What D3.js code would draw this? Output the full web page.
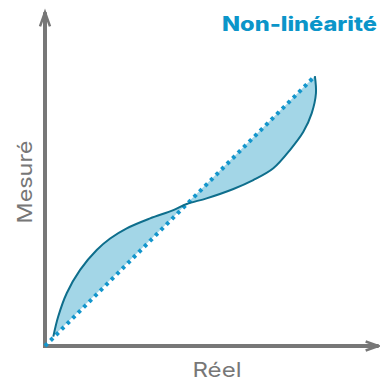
<!DOCTYPE html>
<html>
<head>
<meta charset="utf-8">
<script src="https://d3js.org/d3.v7.min.js"></script>
<style>
body { margin: 0; background: #fff; font-family: Inter, 'Open Sans', sans-serif; }
</style>
</head>
<body>
<div id="chart"></div>
<script>
// reel (x) / mesure (y) readings of the non-linear response
var reel   = [3.1, 4.9, 8.1, 13.1, 19.3, 24.3, 30.5, 39.2, 47.9, 52.9, 60.3, 70.3, 77.7, 85.2, 91.4, 96.4, 99.5, 101.1, 100.7];
var mesure = [3.5, 10.9, 19.7, 28.4, 35.8, 40.1, 43.9, 47.6, 50.7, 53.0, 55.1, 58.6, 61.9, 66.3, 73.1, 79.9, 86.8, 94.3, 100.7];
// ideal linear response
var ideal = [0, 100.7];

var W = 380, H = 382;
var svg = d3.select("#chart").append("svg")
  .attr("width", W).attr("height", H);

var x = d3.scaleLinear().domain([0, 125]).range([45, 380]);
var y = d3.scaleLinear().domain([0, 125]).range([346, 11]);

var pts = reel.map(function(d, i) { return [d, mesure[i]]; });

var line = d3.line()
  .x(function(d) { return x(d[0]); })
  .y(function(d) { return y(d[1]); })
  .curve(d3.curveCatmullRom);

// filled gap between curve and ideal line
svg.append("path")
  .attr("d", line(pts) + "Z")
  .attr("fill", "#a3d6e7")
  .attr("stroke", "none");

// axes
var axisCol = "#777777";
svg.append("line").attr("x1", x(0)).attr("y1", y(0) + 2).attr("x2", x(0)).attr("y2", y(124.5))
  .attr("stroke", axisCol).attr("stroke-width", 4);
svg.append("line").attr("x1", x(0) - 2).attr("y1", y(0)).attr("x2", x(124.5)).attr("y2", y(0))
  .attr("stroke", axisCol).attr("stroke-width", 4);
// arrow heads
svg.append("path")
  .attr("d", "M" + (x(0) - 5) + "," + (y(124.5) + 14) + "L" + x(0) + "," + y(124.5) + "L" + (x(0) + 5) + "," + (y(124.5) + 14))
  .attr("fill", "none").attr("stroke", axisCol).attr("stroke-width", 2.5);
svg.append("path")
  .attr("d", "M" + (x(124.5) - 13) + "," + (y(0) - 4.5) + "L" + x(124.5) + "," + y(0) + "L" + (x(124.5) - 13) + "," + (y(0) + 4.5))
  .attr("fill", "none").attr("stroke", axisCol).attr("stroke-width", 2.5);

// dotted ideal line
svg.append("line")
  .attr("x1", x(ideal[0])).attr("y1", y(ideal[0]))
  .attr("x2", x(ideal[1])).attr("y2", y(ideal[1]))
  .attr("stroke", "#1496cc").attr("stroke-width", 4)
  .attr("stroke-dasharray", "3.5,4.3");

// measured curve
svg.append("path")
  .attr("d", line(pts))
  .attr("fill", "none")
  .attr("stroke", "#0e6e8c")
  .attr("stroke-width", 2);

// labels
svg.append("text")
  .attr("x", 377).attr("y", 31)
  .attr("text-anchor", "end")
  .attr("font-size", 20).attr("font-weight", 800)
  .attr("textLength", 155).attr("lengthAdjust", "spacingAndGlyphs")
  .attr("fill", "#0b95c9")
  .text("Non-linéarité");

svg.append("text")
  .attr("x", 217).attr("y", 377)
  .attr("text-anchor", "middle")
  .attr("font-size", 20)
  .attr("textLength", 49).attr("lengthAdjust", "spacingAndGlyphs")
  .attr("fill", "#777777")
  .text("Réel");

svg.append("text")
  .attr("transform", "translate(32,182) rotate(-90)")
  .attr("text-anchor", "middle")
  .attr("font-size", 20)
  .attr("textLength", 83).attr("lengthAdjust", "spacingAndGlyphs")
  .attr("fill", "#777777")
  .text("Mesuré");
</script>
</body>
</html>
